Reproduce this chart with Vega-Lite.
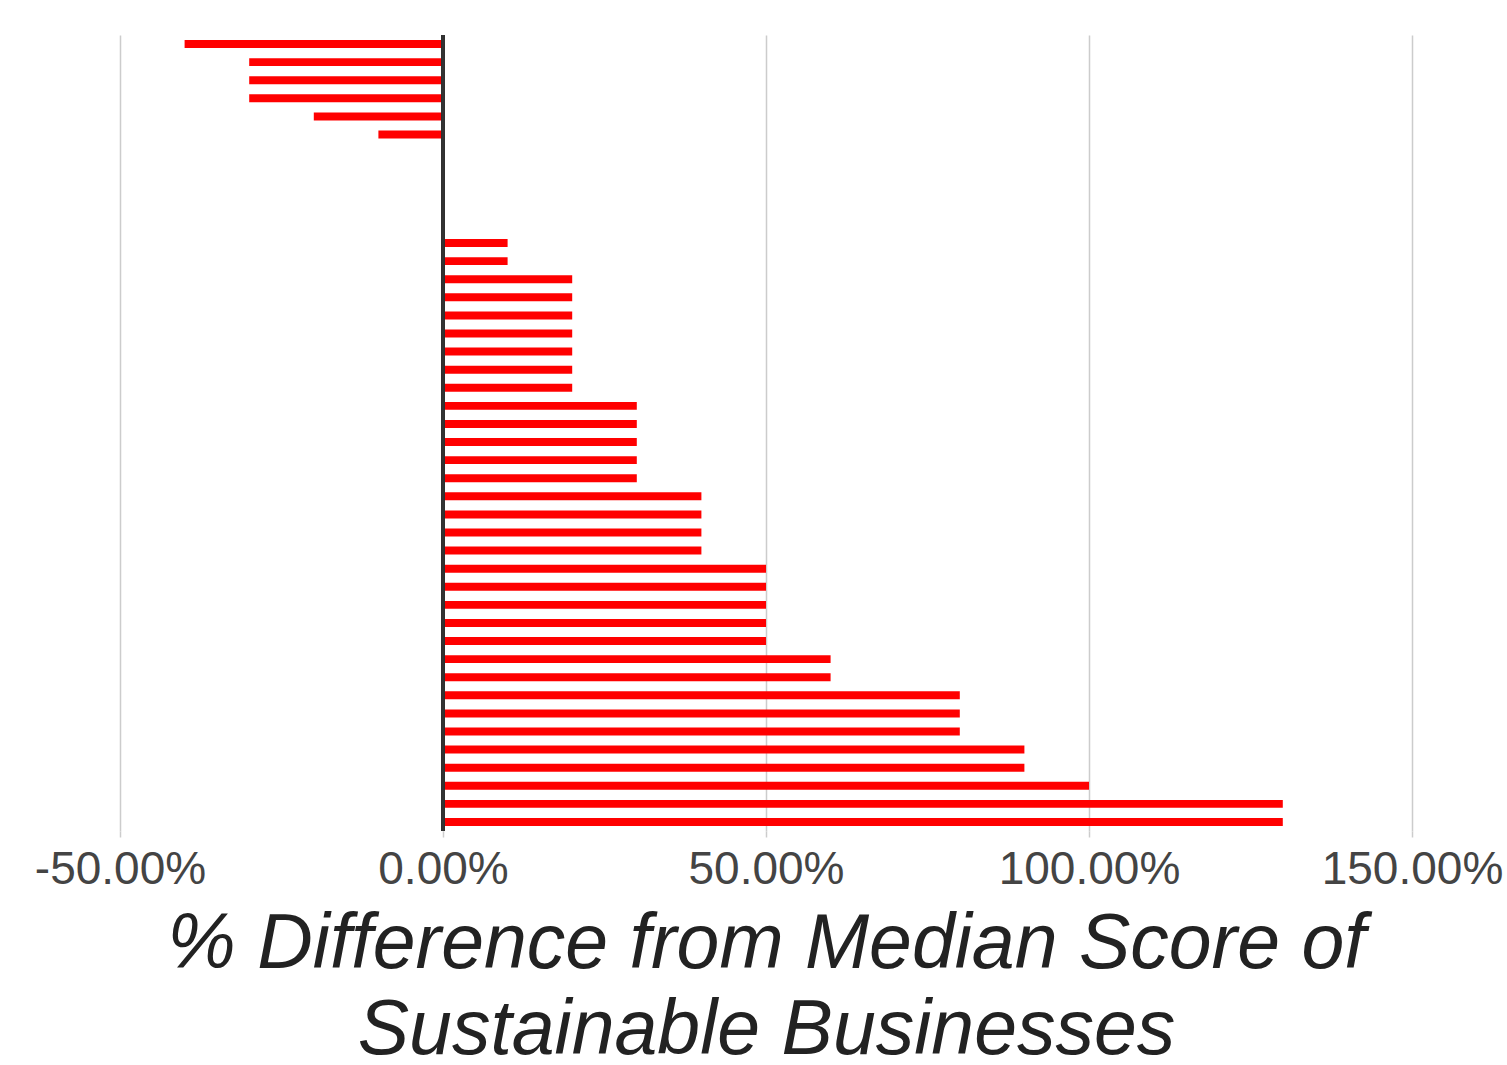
{
  "$schema": "https://vega.github.io/schema/vega-lite/v6.json",
  "autosize": "none",
  "width": 1292,
  "height": 796,
  "padding": {"left": 120, "top": 35, "right": 95, "bottom": 234},
  "background": "white",
  "config": {"view": {"stroke": null}},
  "data": {
    "values": [
      {"row": 1, "diff": -0.4},
      {"row": 2, "diff": -0.3},
      {"row": 3, "diff": -0.3},
      {"row": 4, "diff": -0.3},
      {"row": 5, "diff": -0.2},
      {"row": 6, "diff": -0.1},
      {"row": 7, "diff": 0},
      {"row": 8, "diff": 0},
      {"row": 9, "diff": 0},
      {"row": 10, "diff": 0},
      {"row": 11, "diff": 0},
      {"row": 12, "diff": 0.1},
      {"row": 13, "diff": 0.1},
      {"row": 14, "diff": 0.2},
      {"row": 15, "diff": 0.2},
      {"row": 16, "diff": 0.2},
      {"row": 17, "diff": 0.2},
      {"row": 18, "diff": 0.2},
      {"row": 19, "diff": 0.2},
      {"row": 20, "diff": 0.2},
      {"row": 21, "diff": 0.3},
      {"row": 22, "diff": 0.3},
      {"row": 23, "diff": 0.3},
      {"row": 24, "diff": 0.3},
      {"row": 25, "diff": 0.3},
      {"row": 26, "diff": 0.4},
      {"row": 27, "diff": 0.4},
      {"row": 28, "diff": 0.4},
      {"row": 29, "diff": 0.4},
      {"row": 30, "diff": 0.5},
      {"row": 31, "diff": 0.5},
      {"row": 32, "diff": 0.5},
      {"row": 33, "diff": 0.5},
      {"row": 34, "diff": 0.5},
      {"row": 35, "diff": 0.6},
      {"row": 36, "diff": 0.6},
      {"row": 37, "diff": 0.8},
      {"row": 38, "diff": 0.8},
      {"row": 39, "diff": 0.8},
      {"row": 40, "diff": 0.9},
      {"row": 41, "diff": 0.9},
      {"row": 42, "diff": 1.0},
      {"row": 43, "diff": 1.3},
      {"row": 44, "diff": 1.3}
    ]
  },
  "layer": [
    {
      "mark": {"type": "bar", "color": "#ff0000"},
      "encoding": {
        "y": {
          "field": "row",
          "type": "ordinal",
          "sort": null,
          "scale": {"paddingInner": 0.56, "paddingOuter": 0.28},
          "axis": null
        },
        "x": {
          "field": "diff",
          "type": "quantitative",
          "scale": {"domain": [-0.5, 1.5], "nice": false, "zero": false},
          "axis": {
            "values": [-0.5, 0, 0.5, 1.0, 1.5],
            "format": ".2%",
            "labelExpr": "replace(datum.label, '\u2212', '-')",
            "title": ["% Difference from Median Score of", "Sustainable Businesses"],
            "titleFont": "Liberation Sans",
            "titleFontStyle": "italic",
            "titleFontWeight": "normal",
            "titleFontSize": 77,
            "titleColor": "#222222",
            "titleLineHeight": 86,
            "titlePadding": 14,
            "labelFont": "Liberation Sans",
            "labelFontSize": 46,
            "labelColor": "#444444",
            "labelPadding": 10,
            "labelLimit": 0,
            "labelFlush": false,
            "labelOverlap": false,
            "domain": false,
            "ticks": true,
            "tickSize": 6,
            "tickColor": "#cccccc",
            "tickWidth": 1.5,
            "grid": true,
            "gridColor": "#cccccc",
            "gridWidth": 1.5
          }
        }
      }
    },
    {
      "mark": {"type": "rule", "color": "#333333", "strokeWidth": 2.5},
      "encoding": {
        "x": {"datum": 0, "type": "quantitative"}
      }
    }
  ]
}
